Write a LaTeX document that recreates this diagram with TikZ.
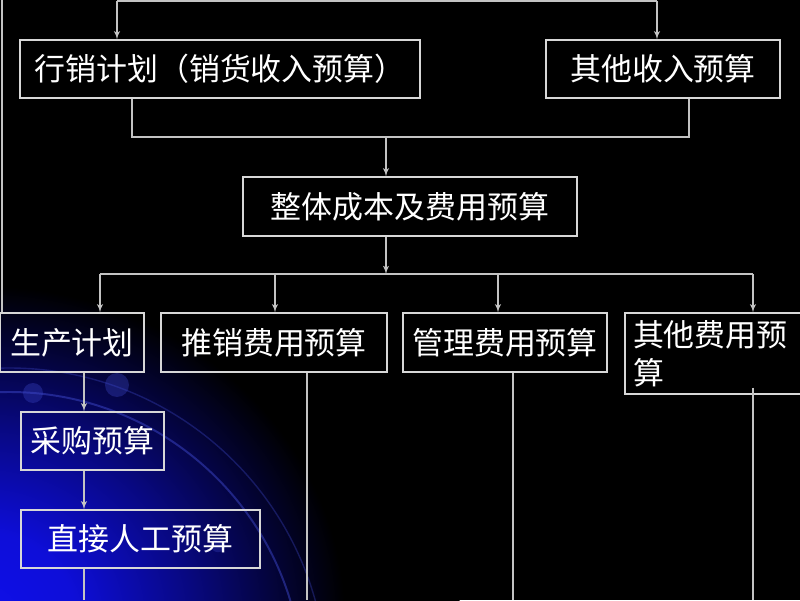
\documentclass[tikz,border=0pt]{standalone}
\usepackage{fontspec}
\setmainfont{Noto Sans CJK SC}
\usepackage{xcolor}
\usepackage{tikz}
\usetikzlibrary{calc}
\usetikzlibrary{arrows}
\tikzset{>=latex'}
\definecolor{linegray}{RGB}{195,195,195}
\definecolor{boxgray}{RGB}{215,215,215}
\definecolor{glowblue}{RGB}{15,15,235}
\definecolor{arcblue}{RGB}{60,70,200}
\pgfdeclareradialshading{glow}{\pgfpoint{0bp}{0bp}}{color(0bp)=(glowblue); color(5bp)=(glowblue!92!black); color(11bp)=(glowblue!55!black); color(19bp)=(black); color(50bp)=(black)}

\begin{document}
\begin{tikzpicture}[font=\fontsize{22pt}{27pt}\selectfont,
	box/.style={draw=boxgray,line width=0.9pt,text=white,minimum height=1.45cm},
	conn/.style={draw=linegray,line width=1pt}]
	% background with the blue glow
	\fill[black] (0,0) rectangle (20,15);
	\useasboundingbox (0,0) rectangle (20,15);
	\begin{scope}
		\clip (0,0) rectangle (20,15);
		\shade[shading=glow] (-0.5,-0.5) ellipse (12cm and 11cm);
		\draw[arcblue,line width=1.4pt,opacity=0.5] (0.23,-2.14) circle (7.34cm);
		\draw[arcblue,line width=1pt,opacity=0.35] (0.23,-2.14) circle (7.94cm);
		\fill[arcblue,opacity=0.35] (0.825,5.175) circle (0.25cm);
		\fill[arcblue,opacity=0.35] (2.925,5.375) circle (0.3cm);
		\fill[arcblue,opacity=0.3] (5.45,1.375) circle (0.18cm);
	\end{scope}
	% boxes
	\node[box,minimum width=10cm] (mkt) at (5.5,13.275) {行销计划（销货收入预算）};
	\node[box,minimum width=5.85cm] (oinc) at (16.575,13.275) {其他收入预算};
	\node[box,minimum width=8.35cm,minimum height=1.475cm] (total) at (10.25,9.8375) {整体成本及费用预算};
	\node[box,minimum width=3.6cm,minimum height=1.475cm] (prod) at (1.8,6.4375) {生产计划};
	\node[box,minimum width=5.65cm,minimum height=1.475cm] (promo) at (6.85,6.4375) {推销费用预算};
	\node[box,minimum width=5.1cm,minimum height=1.475cm] (admin) at (12.625,6.4375) {管理费用预算};
	\node[box,minimum width=4.875cm,minimum height=2.025cm,text width=4.475cm,inner xsep=0.2cm,align=left] (other) at (18.0625,6.1625) {其他费用预\\算};
	\node[box,minimum width=3.575cm] (purch) at (2.3125,3.975) {采购预算};
	\node[box,minimum width=5.975cm] (labor) at (3.5125,1.525) {直接人工预算};
	% junction points
	\coordinate (edge) at (0.05,15);
	\coordinate (topL) at (2.925,14.975);
	\coordinate (topR) at (16.425,14.975);
	\coordinate (m1) at (3.3,11.575);
	\coordinate (m2) at (17.225,11.575);
	\coordinate (j1) at (9.65,11.575);
	\coordinate (j2) at (9.65,8.15);
	\coordinate (s1) at (2.5,8.15);
	\coordinate (s2) at (6.875,8.15);
	\coordinate (s3) at (12.45,8.15);
	\coordinate (s4) at (18.825,8.15);
	\coordinate (d1) at (2.1,0);
	\coordinate (d2) at (7.675,0);
	\coordinate (d3) at (12.825,0);
	\coordinate (d4) at (18.825,0);
	% connectors
	\draw[conn] (edge)--(edge |- prod.north);
	\draw[conn] (topL)--(topR);
	\draw[conn,->] (topL)--(topL |- mkt.north);
	\draw[conn,->] (topR)--(topR |- oinc.north);
	\draw[conn] (m1 |- mkt.south)--(m1)--(m2)--(m2 |- oinc.south);
	\draw[conn,->] (j1)--(j1 |- total.north);
	\draw[conn,->] (j2 |- total.south)--(j2);
	\draw[conn] (s1)--(s4);
	\draw[conn,->] (s1)--(s1 |- prod.north);
	\draw[conn,->] (s2)--(s2 |- promo.north);
	\draw[conn,->] (s3)--(s3 |- admin.north);
	\draw[conn,->] (s4)--(s4 |- other.north);
	\draw[conn,->] (d1 |- prod.south)--(d1 |- purch.north);
	\draw[conn,->] (d1 |- purch.south)--(d1 |- labor.north);
	\draw[conn] (d1 |- labor.south)--(d1);
	\draw[conn] (d2 |- promo.south)--(d2);
	\draw[conn] (d3 |- admin.south)--(d3);
	\draw[conn] ($(d4 |- other.south)+(0,0.175)$)--(d4);
\end{tikzpicture}
\end{document}
